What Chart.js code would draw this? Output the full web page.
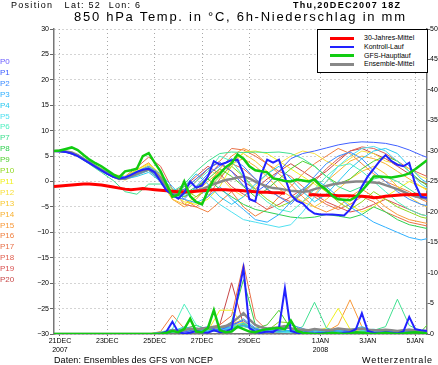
<!DOCTYPE html>
<html>
<head>
<meta charset="utf-8">
<title>850 hPa Temp. in °C, 6h-Niederschlag in mm</title>
<script src="https://cdn.jsdelivr.net/npm/chart.js@4.4.1/dist/chart.umd.min.js"></script>
<style>
  html, body { margin: 0; padding: 0; background: #fff; }
  #page { position: relative; width: 438px; height: 365px; overflow: hidden; font-family: "Liberation Sans", Arial, sans-serif; color: #000; }
  #ensChart { position: absolute; left: 0; top: 0; }
  .txt { position: absolute; white-space: pre; line-height: 1; }
  #headLeft { left: 11px; top: 1px; font-size: 9px; }
  #headRight { left: 293px; top: 1px; font-size: 9px; font-weight: bold; }
  #title { left: 74px; top: 10px; font-size: 13px; }
  #footLeft { left: 54px; top: 356px; font-size: 9px; }
  #footRight { left: 362px; top: 356px; font-size: 9px; }
  .plabel { position: absolute; left: 0; font-size: 8px; line-height: 1; }
  #legendBox { position: absolute; left: 317px; top: 29px; width: 111px; height: 44px; border: 1px solid #000; background: #fff; box-sizing: border-box; }
  .legSw { position: absolute; left: 12px; width: 24px; }
  .legTx { position: absolute; left: 46px; font-size: 7px; line-height: 1; white-space: pre; }
</style>
</head>
<body>
<div id="page">
  <canvas id="ensChart" width="438" height="365"></canvas>
  <div class="txt" id="headLeft">Position   Lat: 52  Lon: 6</div>
  <div class="txt" id="headRight">Thu,20DEC2007 18Z</div>
  <div class="txt" id="title">850 hPa Temp. in °C, 6h-Niederschlag in mm</div>
  <div id="pList"></div>
  <div id="legendBox"></div>
  <div class="txt" id="footLeft">Daten: Ensembles des GFS von NCEP</div>
  <div class="txt" id="footRight">Wetterzentrale</div>
</div>
<script>
// time axis: hours after 20DEC2007 18Z
const hours6 = [0, 6, 12, 18, 24, 30, 36, 42, 48, 54, 60, 66, 72, 78, 84, 90, 96, 102, 108, 114,
  120, 126, 132, 138, 144, 150, 156, 162, 168, 174, 180, 186, 192, 198, 204, 210, 216, 222, 228, 234,
  240, 246, 252, 258, 264, 270, 276, 282, 288, 294, 300, 306, 312, 318, 324, 330, 336, 342, 348, 354,
  360, 366, 372, 378, 384];
const hours12 = [0, 12, 24, 36, 48, 60, 72, 84, 96, 108, 120, 132, 144, 156, 168, 180, 192, 204, 216, 228,
  240, 252, 264, 276, 288, 300, 312, 324, 336, 348, 360, 372, 384];

const tickHours = [6, 54, 102, 150, 198, 270, 318, 366];
const tickLabels = [["21DEC", "2007"], "23DEC", "25DEC", "27DEC", "29DEC", ["1JAN", "2008"], "3JAN", "5JAN"];

// 850 hPa temperature, degC
const tempClim = [-1.0, -0.9, -0.8, -0.7, -0.6, -0.5, -0.5, -0.6, -0.7, -0.9,
  -1.1, -1.3, -1.5, -1.6, -1.5, -1.4, -1.5, -1.6, -1.7, -1.8,
  -1.9, -2.0, -2.0, -2.0, -1.9, -1.8, -1.7, -1.6, -1.6, -1.6,
  -1.7, -1.7, -1.8, -1.9, -2.0, -2.1, -2.1, -2.2, -2.2, -2.3,
  null, null, null, -2.6, -2.6, -2.7, -2.7, -2.7, -2.8, -2.8,
  -2.8, -2.9, -2.9, -3.0, -3.2, -3.1, -2.9, -2.8, -2.7, -2.6,
  -2.6, -2.5, -2.6, -2.6, -2.6];
const tempCtrl = [6.0, 5.9, 5.8, 5.5, 5.0, 4.3, 3.6, 2.9, 2.2, 1.5,
  0.9, 0.6, 0.8, 1.3, 1.9, 2.3, 2.5, 1.8, 0.0, -1.8,
  -2.6, -3.4, -2.2, 0.0, -1.2, -0.8, 1.0, 4.0, 3.3, 3.7,
  4.2, 4.3, 1.5, -3.5, -3.9, 1.4, 4.3, 3.7, 4.3, 0.8,
  -2.6, -3.8, -4.3, -5.5, -6.3, -6.5, -6.5, -6.5, -6.6, -6.7,
  -5.5, -3.5, -1.0, 1.0, 2.5, 4.0, 5.2, 4.0, 3.3, 3.0,
  3.7, -0.5, -3.0, -3.2, -3.1];
const tempGfs = [6.0, 6.1, 6.4, 6.7, 6.2, 5.2, 4.3, 3.6, 3.0, 2.2,
  1.4, 0.8, 2.0, 2.2, 2.5, 5.0, 5.6, 3.7, 2.0, -0.5,
  -3.0, -2.6, 0.0, -2.9, -4.0, -4.5, -1.8, 0.5, 1.5, 2.8,
  3.6, 5.3, 4.5, 3.0, 2.2, 2.0, 1.8, 0.6, 0.4, 0.1,
  0.0, 0.4, 0.2, 0.0, 0.4, -0.8, -1.6, -2.8, -3.5, -3.6,
  -3.7, -3.0, -1.8, -0.5, 1.0, 1.0, 0.9, 0.8, 1.0, 1.2,
  1.6, 2.4, 3.3, 4.2, 5.0];
const tempMean = [6.0, 6.0, 5.9, 5.7, 5.2, 4.4, 3.7, 3.0, 2.3, 1.6,
  1.0, 0.5, 0.6, 1.1, 1.6, 2.1, 2.4, 1.9, 0.8, -1.2,
  -2.4, -2.6, -2.2, -2.0, -1.8, -1.5, -1.0, -0.5, -0.1, 0.3,
  0.5, 0.8, 1.0, 0.6, 0.0, -0.5, -1.0, -1.3, -1.4, -1.6,
  -1.8, -1.9, -2.0, -1.9, -1.5, -1.2, -0.9, -0.6, -0.4, -0.2,
  -0.1, 0.0, 0.0, -0.1, -0.2, -0.3, -0.7, -1.1, -1.5, -2.0,
  -2.5, -2.9, -3.2, -3.4, -3.5];

// 6h precipitation, mm
const rainCtrl = [0, 0, 0, 0, 0, 0, 0, 0, 0, 0,
  0, 0, 0, 0, 0, 0, 0, 0, 0, 0.4,
  2.0, 0.3, 0.1, 0.2, 0.5, 0.3, 0.2, 0.6, 0.3, 0.4,
  0.8, 6.0, 10.8, 1.0, 0.3, 0.2, 0.4, 0.3, 1.0, 7.5,
  0.5, 0.2, 0.1, 0, 0, 0.1, 0.2, 0.1, 0, 0.2,
  0.3, 0.8, 3.4, 0.5, 0.2, 0.1, 0.3, 0.2, 0.1, 0.4,
  2.8, 0.8, 0.6, 0.5, 0.7];
const rainGfs = [0, 0, 0, 0, 0, 0, 0, 0, 0, 0,
  0, 0, 0, 0, 0, 0, 0, 0, 0, 0.2,
  0.5, 0.3, 0.8, 2.5, 0.4, 0.3, 1.0, 3.9, 0.6, 0.3,
  0.4, 1.2, 0.8, 0.4, 0.3, 0.6, 0.8, 0.9, 1.0, 0.8,
  2.2, 0.5, 0.2, 0.1, 0, 0, 0.1, 0.2, 0.1, 0,
  0.1, 0.3, 0.2, 0.1, 0, 0.1, 0.2, 0.1, 0, 0.1,
  0.2, 0.3, 0.2, 0.1, 0.1];
const rainMean = [0, 0, 0, 0, 0, 0, 0, 0, 0, 0,
  0, 0, 0, 0, 0, 0, 0, 0, 0.1, 0.3,
  0.6, 0.5, 0.6, 0.9, 0.8, 0.9, 1.0, 1.2, 1.1, 1.3,
  1.8, 2.6, 3.4, 2.4, 1.5, 1.1, 0.9, 1.0, 1.1, 1.3,
  0.9, 0.8, 0.7, 0.6, 0.8, 0.7, 0.6, 0.7, 0.9, 0.8,
  0.7, 0.8, 0.9, 0.7, 0.6, 0.6, 0.7, 0.6, 0.5, 0.6,
  0.7, 0.6, 0.5, 0.5, 0.5];

// ensemble members P1..P20, 12-hourly
const tempP1 = [6.0, 5.9, 5.1, 3.6, 2.2, 1.0, 0.8, 1.8, 2.7, 0.6, -2.5, -1.5, 0.5, 2.5, 3.8, 2.0, -0.8, -2.2, -0.5, 2.0, 4.5, 5.5, 6.0, 6.6, 7.2, 7.6, 7.8, 7.7, 7.5, 7.0, 6.2, 5.2, 4.3];
const tempP2 = [6.0, 5.8, 5.0, 3.5, 2.0, 0.8, 0.4, 1.3, 2.2, 0.2, -3.0, -3.5, -1.0, 1.5, 3.0, 4.5, 3.0, 0.5, -1.5, -3.0, -4.5, -2.0, 1.0, 3.5, 5.0, 5.8, 4.5, 2.0, 0.0, -2.0, -3.5, -4.5, -5.0];
const tempP3 = [6.0, 5.9, 5.2, 3.8, 2.4, 1.2, 0.9, 2.0, 3.0, 1.5, -1.0, -3.5, -4.2, -3.0, -1.0, -3.5, -5.5, -7.5, -8.0, -6.5, -4.0, -1.5, 0.5, -1.0, -3.0, -5.0, -6.5, -8.0, -9.0, -10.0, -11.0, -11.5, -11.0];
const tempP4 = [6.0, 5.9, 5.3, 3.9, 2.5, 1.3, 0.5, 1.0, 1.8, 0.0, -2.8, -1.0, 1.5, -0.5, -3.0, -4.5, -3.0, -0.5, 1.5, 3.0, 0.5, -2.0, -4.0, -2.5, 0.0, 2.5, 4.5, 6.0, 6.5, 5.5, 3.0, 0.5, -1.0];
const tempP5 = [6.0, 5.9, 5.2, 3.7, 2.3, 1.0, 0.6, 1.5, 2.5, 0.5, -3.0, -2.8, -1.5, -2.5, -4.5, -6.0, -7.5, -8.0, -8.5, -9.0, -8.5, -6.0, -3.0, 0.0, 3.0, 5.0, 6.5, 6.9, 6.0, 4.0, 2.0, -0.5, -2.0];
const tempP6 = [6.0, 5.9, 5.1, 3.6, 2.2, 1.0, 0.6, 1.7, 2.8, 1.0, -1.5, -2.0, 0.0, 2.0, 5.0, 4.0, 1.0, -2.0, -4.0, -5.5, -6.0, -4.0, -1.5, 1.0, 3.0, 3.5, 2.0, 0.0, -2.0, -4.0, -5.5, -6.5, -7.0];
const tempP7 = [6.0, 5.8, 5.0, 3.4, 1.8, 0.2, -2.0, -2.5, -0.5, -0.5, -2.0, -0.5, 2.0, 4.0, 5.5, 5.8, 5.7, 5.8, 5.7, 5.8, 5.5, 4.5, 3.0, 1.0, -1.0, -2.0, -1.0, 0.5, 1.0, 0.0, -1.5, -3.0, -4.0];
const tempP8 = [6.0, 5.9, 5.2, 3.8, 2.4, 1.1, 0.7, 1.6, 2.4, 0.7, -2.0, -2.5, -1.0, 0.5, -1.5, -3.0, -4.5, -5.5, -6.0, -6.5, -7.0, -7.2, -7.0, -6.5, -6.8, -7.2, -6.5, -5.0, -6.0, -7.5, -8.5, -9.0, -9.5];
const tempP9 = [6.0, 5.9, 5.2, 3.7, 2.3, 1.0, 0.6, 1.5, 2.2, 0.3, -2.5, -3.0, -1.5, 0.5, 2.5, 1.0, -1.0, -3.0, -1.5, 0.5, 2.5, 4.0, 3.0, 1.0, -0.5, 0.5, 2.5, 4.0, 5.0, 4.0, 2.0, 0.0, -1.5];
const tempP10 = [6.0, 5.9, 5.1, 3.6, 2.2, 0.9, 0.5, 1.4, 2.3, 0.8, -2.2, -1.5, -3.0, -1.5, 1.0, 3.0, 1.0, -1.5, -3.5, -5.0, -4.0, -2.0, 0.0, -2.0, -4.0, -5.5, -4.0, -2.0, -3.5, -5.0, -6.0, -7.0, -7.5];
const tempP11 = [6.0, 5.9, 5.3, 3.9, 2.6, 1.4, 1.0, 2.3, 3.5, 1.5, -2.5, -4.0, -4.5, -3.5, -1.0, 3.0, 5.8, 6.0, 5.5, 4.0, 2.5, 1.0, -0.5, -2.0, -3.0, -4.5, -6.0, -5.0, -3.0, -1.5, 0.0, -1.0, -2.5];
const tempP12 = [6.0, 5.9, 5.2, 3.8, 2.4, 1.1, 0.8, 2.0, 3.3, 1.2, -2.0, -1.5, 0.5, 2.5, 1.0, -1.5, -3.0, -1.0, 1.5, 3.5, 5.0, 6.0, 5.5, 4.0, 3.0, 4.5, 6.0, 5.5, 4.0, 3.5, 2.5, 1.0, 0.0];
const tempP13 = [6.0, 5.8, 5.0, 3.5, 2.1, 0.8, 0.3, 1.2, 2.2, 0.0, -3.5, -4.5, -3.0, -1.0, 1.5, 4.0, 5.5, 4.0, 2.0, 0.0, -2.5, -4.0, -5.0, -3.5, -1.5, 0.5, 2.0, 3.0, 1.5, -1.0, -3.0, -4.5, -5.5];
const tempP14 = [6.0, 5.9, 5.2, 3.7, 2.3, 1.0, 0.7, 1.8, 2.9, 1.0, -1.5, -3.0, -2.0, 0.0, 2.0, 3.5, 4.5, 3.0, 1.0, -1.5, -3.0, -4.0, -2.5, 0.0, 2.0, 4.0, 5.0, 4.5, 3.5, 2.0, 0.5, -1.0, -2.0];
const tempP15 = [6.0, 5.9, 5.1, 3.6, 2.2, 1.0, 0.9, 2.3, 3.7, 1.0, -3.5, -5.0, -3.5, -1.0, 2.5, 5.0, 6.5, 5.5, 3.5, 1.5, -0.5, -3.0, -5.0, -6.0, -5.0, -3.0, -1.5, -3.0, -5.0, -6.5, -7.5, -8.0, -8.5];
const tempP16 = [6.0, 5.9, 5.2, 3.8, 2.4, 1.1, 0.6, 1.7, 2.6, 0.4, -3.0, -3.5, -5.0, -6.0, -4.0, -2.0, -5.0, -6.8, -5.5, -3.0, -1.0, 1.5, 3.5, 5.0, 6.5, 5.5, 3.5, 1.5, 0.0, -1.0, -2.0, -3.5, -4.5];
const tempP17 = [6.0, 5.9, 5.2, 3.7, 2.3, 1.0, 0.7, 1.9, 3.0, 0.8, -2.5, -2.0, 0.0, 2.5, 4.0, 6.5, 6.2, 5.0, 3.5, 2.0, 1.0, -1.0, -3.0, -4.5, -5.5, -4.5, -3.0, -4.0, -6.0, -7.0, -8.0, -8.5, -9.0];
const tempP18 = [6.0, 5.8, 5.0, 3.6, 2.4, 1.2, 1.0, 2.8, 4.8, 3.0, -1.5, -4.5, -5.0, -3.0, 0.5, 3.5, 2.5, 0.5, -1.5, -3.0, -4.0, -2.5, 0.0, 2.5, 4.5, 6.0, 6.8, 6.5, 5.5, 4.0, 2.5, 1.5, 0.5];
const tempP19 = [6.0, 5.9, 5.1, 3.7, 2.3, 1.0, 0.6, 1.6, 2.5, 0.5, -2.0, -1.0, 1.0, 3.0, 1.5, -1.0, -2.5, -4.0, -5.5, -4.5, -3.0, -1.5, -2.5, -4.0, -5.0, -6.0, -5.5, -4.5, -3.5, -4.5, -5.5, -6.5, -7.0];
const tempP20 = [6.0, 5.9, 5.2, 3.8, 2.3, 1.0, 0.7, 1.7, 2.6, 0.6, -2.2, -3.0, -1.5, 1.0, 3.5, 2.0, 0.0, -1.5, 0.5, 2.0, 3.5, 2.0, 0.5, 2.0, 4.0, 6.0, 6.5, 5.5, 4.5, 3.0, 1.5, 0.0, -1.0];

const rainP1 = [0, 0, 0, 0, 0, 0, 0, 0, 0, 0.2, 0.5, 0.3, 0.8, 1.2, 0.6, 1.5, 2.2, 0.8, 0.4, 0.6, 1.0, 0.5, 0.2, 0.3, 0.8, 0.4, 0.2, 0.6, 0.3, 0.2, 0.4, 0.3, 0.2];
const rainP2 = [0, 0, 0, 0, 0, 0, 0, 0, 0, 0.1, 0.8, 0.4, 0.3, 1.0, 0.5, 0.9, 1.4, 0.6, 0.3, 0.8, 1.5, 0.9, 0.3, 0.2, 0.5, 0.3, 1.0, 0.6, 0.3, 0.5, 0.8, 0.4, 0.3];
const rainP3 = [0, 0, 0, 0, 0, 0, 0, 0, 0, 0, 0.3, 0.6, 1.0, 0.5, 0.8, 1.2, 2.5, 1.0, 0.4, 0.3, 0.6, 0.3, 0.2, 0.8, 0.5, 0.3, 0.2, 0.4, 0.6, 0.3, 0.2, 0.3, 0.4];
const rainP4 = [0, 0, 0, 0, 0, 0, 0, 0, 0, 0.2, 0.4, 1.2, 0.6, 0.3, 1.0, 0.7, 1.8, 0.5, 0.3, 0.9, 0.4, 0.2, 0.6, 0.3, 0.2, 0.7, 1.2, 0.5, 0.3, 0.2, 0.4, 0.6, 0.3];
const rainP5 = [0, 0, 0, 0, 0, 0, 0, 0, 0, 0.1, 0.3, 0.5, 0.8, 0.4, 0.6, 1.0, 1.3, 0.7, 0.5, 0.3, 0.2, 0.4, 0.3, 0.5, 0.2, 0.3, 0.5, 0.8, 0.4, 0.3, 0.2, 0.3, 0.2];
const rainP6 = [0, 0, 0, 0, 0, 0, 0, 0, 0, 0.3, 0.8, 4.9, 1.5, 0.6, 0.4, 1.2, 1.8, 0.8, 0.4, 0.6, 0.3, 0.5, 0.4, 0.3, 0.6, 0.3, 0.2, 0.5, 0.3, 0.4, 0.2, 0.3, 0.2];
const rainP7 = [0, 0, 0, 0, 0, 0, 0, 0, 0, 0.2, 0.5, 0.8, 0.6, 0.4, 0.9, 1.0, 1.5, 0.6, 0.5, 0.8, 0.4, 1.2, 5.2, 1.0, 0.4, 0.3, 0.5, 0.6, 1.2, 5.7, 1.4, 0.5, 0.3];
const rainP8 = [0, 0, 0, 0, 0, 0, 0, 0, 0, 0.1, 0.6, 0.9, 1.4, 0.8, 0.6, 2.0, 8.9, 1.5, 0.6, 0.4, 0.5, 0.3, 0.2, 0.4, 0.3, 0.2, 0.5, 0.3, 0.2, 0.4, 0.6, 0.3, 0.2];
const rainP9 = [0, 0, 0, 0, 0, 0, 0, 0, 0, 0.2, 0.4, 0.7, 0.5, 1.0, 0.6, 0.8, 1.2, 0.9, 1.5, 3.9, 0.8, 0.4, 0.3, 0.5, 0.2, 0.3, 0.4, 0.6, 0.3, 0.2, 0.5, 0.4, 2.5];
const rainP10 = [0, 0, 0, 0, 0, 0, 0, 0, 0, 0.3, 0.5, 0.6, 1.0, 0.5, 0.4, 1.0, 1.6, 0.7, 0.5, 2.0, 1.8, 0.5, 0.3, 0.4, 0.6, 0.3, 0.2, 0.4, 0.3, 0.2, 0.3, 0.5, 0.4];
const rainP11 = [0, 0, 0, 0, 0, 0, 0, 0, 0, 0.1, 0.4, 0.8, 0.6, 0.5, 3.9, 3.9, 1.5, 0.6, 0.4, 0.3, 0.5, 0.8, 0.4, 1.0, 4.2, 0.8, 0.3, 0.2, 0.4, 0.3, 0.5, 0.3, 0.2];
const rainP12 = [0, 0, 0, 0, 0, 0, 0, 0, 0, 0.2, 0.3, 0.6, 0.4, 0.8, 1.0, 1.2, 2.0, 0.8, 0.5, 0.3, 0.6, 0.4, 0.3, 0.5, 0.8, 0.4, 0.3, 0.5, 0.3, 0.4, 0.6, 0.3, 0.2];
const rainP13 = [0, 0, 0, 0, 0, 0, 0, 0, 0, 0.1, 0.6, 0.5, 0.3, 0.6, 0.8, 1.4, 1.8, 0.9, 0.4, 0.5, 0.3, 0.6, 0.4, 0.3, 0.5, 0.3, 0.8, 0.4, 0.3, 0.5, 0.3, 0.2, 0.3];
const rainP14 = [0, 0, 0, 0, 0, 0, 0, 0, 0, 0.2, 0.5, 0.4, 0.7, 0.5, 1.0, 1.1, 1.6, 1.0, 0.4, 0.6, 0.4, 0.3, 0.5, 0.6, 0.3, 0.5, 0.4, 0.3, 0.6, 0.4, 0.2, 0.4, 0.3];
const rainP15 = [0, 0, 0, 0, 0, 0, 0, 0, 0, 0.3, 0.6, 0.8, 0.5, 0.9, 0.6, 1.6, 2.4, 0.7, 0.5, 0.4, 0.3, 0.8, 0.5, 0.4, 1.5, 5.6, 1.2, 0.4, 0.3, 0.5, 0.3, 0.4, 0.3];
const rainP16 = [0, 0, 0, 0, 0, 0, 0, 0, 0, 0.4, 3.1, 0.9, 0.6, 0.8, 0.5, 1.0, 1.7, 0.8, 0.6, 0.5, 0.4, 0.3, 0.6, 0.3, 0.5, 0.4, 0.3, 0.6, 0.4, 0.3, 0.5, 0.3, 0.2];
const rainP17 = [0, 0, 0, 0, 0, 0, 0, 0, 0, 0.2, 0.6, 0.8, 0.5, 1.0, 1.5, 3.0, 11.5, 2.5, 0.6, 0.4, 0.5, 0.3, 0.4, 0.6, 0.3, 0.5, 0.4, 0.3, 0.5, 0.3, 0.4, 0.3, 0.2];
const rainP18 = [0, 0, 0, 0, 0, 0, 0, 0, 0, 0.1, 0.5, 0.6, 0.8, 0.6, 0.9, 1.3, 1.9, 0.7, 0.5, 0.8, 0.4, 0.3, 0.5, 0.4, 0.3, 0.6, 0.4, 0.3, 0.2, 0.4, 0.3, 0.5, 0.3];
const rainP19 = [0, 0, 0, 0, 0, 0, 0, 0, 0, 0.2, 0.4, 0.5, 0.4, 0.7, 0.6, 1.1, 1.4, 0.8, 0.5, 0.3, 0.6, 0.4, 0.3, 0.5, 0.4, 0.3, 0.5, 0.4, 0.6, 0.3, 0.2, 0.4, 0.3];
const rainP20 = [0, 0, 0, 0, 0, 0, 0, 0, 0, 0.1, 0.5, 0.7, 0.6, 0.9, 1.5, 8.4, 1.6, 0.5, 0.4, 0.3, 0.5, 0.4, 0.3, 0.4, 0.6, 0.3, 0.4, 0.5, 0.3, 0.2, 0.4, 0.3, 0.2];

const memberTemps = [tempP1, tempP2, tempP3, tempP4, tempP5, tempP6, tempP7, tempP8, tempP9, tempP10,
  tempP11, tempP12, tempP13, tempP14, tempP15, tempP16, tempP17, tempP18, tempP19, tempP20];
const memberRain = [rainP1, rainP2, rainP3, rainP4, rainP5, rainP6, rainP7, rainP8, rainP9, rainP10,
  rainP11, rainP12, rainP13, rainP14, rainP15, rainP16, rainP17, rainP18, rainP19, rainP20];

const pLabels = ["P0", "P1", "P2", "P3", "P4", "P5", "P6", "P7", "P8", "P9", "P10",
  "P11", "P12", "P13", "P14", "P15", "P16", "P17", "P18", "P19", "P20"];
const pColors = ["#6a5cff", "#4060ff", "#3c8cff", "#30b0ff", "#28c8f0", "#50e0f0", "#50f0c0", "#40e090", "#30d050", "#50d030", "#90d820",
  "#f0f020", "#f8e040", "#f8c830", "#f8b030", "#f89838", "#f08040", "#e87048", "#e06050", "#d85050", "#c84848"];

const legendLabels = ["30-Jahres-Mittel", "Kontroll-Lauf", "GFS-Hauptlauf", "Ensemble-Mittel"];
const legendColors = ["#ff0000", "#2222ff", "#11cc11", "#888888"];

function toPoints(hours, values) {
  return values.map((v, i) => ({ x: hours[i], y: v }));
}

function makeLine(hours, values, color, width, axis, order) {
  return {
    data: toPoints(hours, values),
    borderColor: color,
    backgroundColor: color,
    borderWidth: width,
    yAxisID: axis,
    order: order,
    pointRadius: 0,
    tension: 0,
    spanGaps: false,
    fill: false
  };
}

function buildDatasets() {
  const list = [];
  // thick lines on top (lower order is drawn last)
  list.push(makeLine(hours6, tempGfs, legendColors[2], 2.5, "y", 0));
  list.push(makeLine(hours6, rainGfs, legendColors[2], 2.5, "y2", 0));
  list.push(makeLine(hours6, tempCtrl, legendColors[1], 2, "y", 1));
  list.push(makeLine(hours6, rainCtrl, legendColors[1], 2, "y2", 1));
  list.push(makeLine(hours6, tempClim, legendColors[0], 3, "y", 2));
  list.push(makeLine(hours6, tempMean, legendColors[3], 2.5, "y", 3));
  list.push(makeLine(hours6, rainMean, legendColors[3], 2.5, "y2", 3));

  memberTemps.forEach((series, i) => {
    list.push(makeLine(hours12, series, pColors[i + 1], 1, "y", 10));
    list.push(makeLine(hours12, memberRain[i], pColors[i + 1], 1, "y2", 10));
  });
  return list;
}

function formatMinus(value) {
  return value < 0 ? "\u2212" + Math.abs(value) : String(value);
}

function renderSideTexts() {
  const pList = document.getElementById("pList");
  pList.innerHTML = pLabels
    .map((label, i) => `<div class="plabel" style="top:${58 + i * 10.9}px;color:${pColors[i]}">${label}</div>`)
    .join("");

  const legendBox = document.getElementById("legendBox");
  const widths = [3, 2, 2.5, 2.5];
  legendBox.innerHTML = legendLabels
    .map((label, i) => {
      const cy = 8 + i * 8.8;
      return `
        <div class="legSw" style="top:${cy - widths[i] / 2}px;height:${widths[i]}px;background:${legendColors[i]}"></div>
        <div class="legTx" style="top:${cy - 4}px">${label}</div>
      `;
    })
    .join("");
}

function fitWidth(id, target) {
  const el = document.getElementById(id);
  const text = el.textContent;
  const w = el.getBoundingClientRect().width;
  const gap = (target - w) / Math.max(1, text.length - 1);
  el.style.letterSpacing = gap.toFixed(2) + "px";
}

function buildChart() {
  const ctx = document.getElementById("ensChart");
  const tickFont = { family: "'Liberation Sans', Arial, sans-serif", size: 7 };

  new Chart(ctx, {
    type: "line",
    data: { datasets: buildDatasets() },
    options: {
      responsive: false,
      animation: false,
      devicePixelRatio: 1,
      layout: { padding: { top: 29, left: 0, right: 0, bottom: 0 } },
      plugins: {
        legend: { display: false },
        tooltip: { enabled: false }
      },
      scales: {
        x: {
          type: "linear",
          min: 0,
          max: 378,
          afterBuildTicks: function (axis) {
            axis.ticks = tickHours.map((v) => ({ value: v }));
          },
          afterFit: function (axis) {
            axis.height = 31;
          },
          ticks: {
            autoSkip: false,
            maxRotation: 0,
            padding: 1,
            color: "#000",
            font: tickFont,
            callback: function (value, index) {
              return tickLabels[index];
            }
          },
          grid: { color: "#a8a8a8", lineWidth: 1, tickLength: 2, tickColor: "#666" },
          border: { color: "#777", width: 1.5, dash: [1, 3] }
        },
        y: {
          position: "left",
          min: -30,
          max: 30,
          afterFit: function (axis) {
            axis.width = 54;
          },
          ticks: {
            stepSize: 5,
            padding: 1,
            color: "#000",
            font: tickFont,
            callback: formatMinus
          },
          grid: { color: "#a8a8a8", lineWidth: 1, tickLength: 4, tickColor: "#666" },
          border: { color: "#777", width: 1.5, dash: [1, 3] }
        },
        y2: {
          position: "right",
          min: 0,
          max: 50,
          afterFit: function (axis) {
            axis.width = 11;
          },
          ticks: {
            stepSize: 5,
            padding: 0,
            color: "#000",
            font: tickFont
          },
          grid: { drawOnChartArea: false, tickLength: 3, tickColor: "#666" },
          border: { color: "#777", width: 1.5 }
        }
      }
    }
  });
}

function initPage() {
  renderSideTexts();
  fitWidth("headLeft", 129);
  fitWidth("headRight", 107);
  fitWidth("title", 331);
  fitWidth("footLeft", 159);
  fitWidth("footRight", 70);
  buildChart();
}

document.addEventListener("DOMContentLoaded", initPage);
</script>
</body>
</html>
